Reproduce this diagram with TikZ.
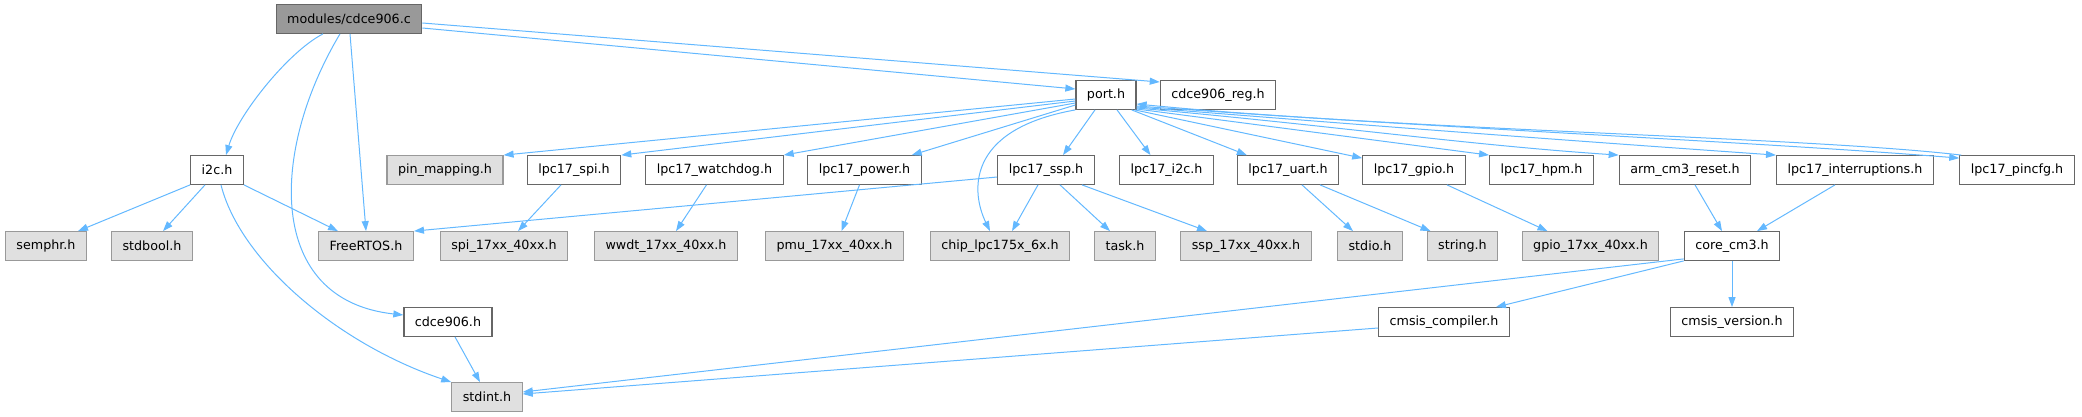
\documentclass[tikz,border=0pt]{standalone}
\usepackage{fontspec}
\setmainfont{DejaVu Sans}
\usetikzlibrary{arrows.meta}
\definecolor{edgeblue}{RGB}{99, 184, 255}
\definecolor{rootgray}{RGB}{153, 153, 153}
\definecolor{boxborder}{RGB}{102, 102, 102}
\definecolor{extfill}{RGB}{224, 224, 224}
\tikzset{
  hdr/.style={draw=boxborder, fill=white, line width=1.2pt, minimum height=28.6pt, inner xsep=11pt, inner ysep=0pt, font=\fontsize{12.7}{15}\selectfont},
  exthdr/.style={hdr, draw=rootgray, fill=extfill},
  roothdr/.style={hdr, fill=rootgray},
  incl/.style={draw=edgeblue, line width=1pt, -{Triangle[length=10pt, width=7pt]}}
}

\begin{document}
\begin{tikzpicture}[x=1pt, y=-1pt]
  \useasboundingbox (0,0) rectangle (2082,417);

  \node[roothdr] (cdcec) at (349,19) {modules/cdce906.c};
  \node[hdr] (port) at (1106,95) {port.h};
  \node[hdr] (cdcereg) at (1218,95) {cdce906\_reg.h};

  \node[hdr] (i2c) at (217,170) {i2c.h};
  \node[exthdr] (pinmap) at (445,170) {pin\_mapping.h};
  \node[hdr] (lspi) at (574,170) {lpc17\_spi.h};
  \node[hdr] (lwdog) at (714.5,170) {lpc17\_watchdog.h};
  \node[hdr] (lpower) at (864.5,170) {lpc17\_power.h};
  \node[hdr] (lssp) at (1046,170) {lpc17\_ssp.h};
  \node[hdr] (li2c) at (1166.5,170) {lpc17\_i2c.h};
  \node[hdr] (luart) at (1288,170) {lpc17\_uart.h};
  \node[hdr] (lgpio) at (1414,170) {lpc17\_gpio.h};
  \node[hdr] (lhpm) at (1541.5,170) {lpc17\_hpm.h};
  \node[hdr] (armreset) at (1685,170) {arm\_cm3\_reset.h};
  \node[hdr] (lintr) at (1855,170) {lpc17\_interruptions.h};
  \node[hdr] (lpincfg) at (2017,170) {lpc17\_pincfg.h};

  \node[exthdr] (semphr) at (46,246) {semphr.h};
  \node[exthdr] (stdbool) at (152,246) {stdbool.h};
  \node[exthdr] (freertos) at (366,246) {FreeRTOS.h};
  \node[exthdr] (spidrv) at (504,246) {spi\_17xx\_40xx.h};
  \node[exthdr] (wwdt) at (666,246) {wwdt\_17xx\_40xx.h};
  \node[exthdr] (pmu) at (834.5,246) {pmu\_17xx\_40xx.h};
  \node[exthdr] (chip) at (1000,246) {chip\_lpc175x\_6x.h};
  \node[exthdr] (task) at (1125,246) {task.h};
  \node[exthdr] (sspdrv) at (1246,246) {ssp\_17xx\_40xx.h};
  \node[exthdr] (stdio) at (1370,246) {stdio.h};
  \node[exthdr] (string) at (1462.5,246) {string.h};
  \node[exthdr] (gpiodrv) at (1590.5,246) {gpio\_17xx\_40xx.h};
  \node[hdr] (corecm3) at (1732,246) {core\_cm3.h};

  \node[hdr] (cdceh) at (448,322) {cdce906.h};
  \node[hdr] (cmsiscomp) at (1444,322) {cmsis\_compiler.h};
  \node[hdr] (cmsisver) at (1732,322) {cmsis\_version.h};

  \node[exthdr] (stdint) at (487,397) {stdint.h};

  \draw[incl] ([xshift=-26pt]cdcec.south) .. controls +(-35,18) and +(12,-40) .. ([xshift=9pt]i2c.north);
  \draw[incl] ([xshift=-9pt]cdcec.south) .. controls +(-70,117) and +(-138,-15) .. ([yshift=7pt]cdceh.west);
  \draw[incl] ([xshift=1pt]cdcec.south) -- (freertos.north);
  \draw[incl] ([yshift=-9pt]cdcec.east) -- ([yshift=6pt]port.west);
  \draw[incl] ([yshift=-4pt]cdcec.east) -- ([yshift=13pt]cdcereg.west);

  \draw[incl] (i2c.south west) -- ([xshift=32pt]semphr.north);
  \draw[incl] ([xshift=-12pt]i2c.south) -- ([xshift=11pt]stdbool.north);
  \draw[incl] (i2c.south east) -- ([xshift=-28pt]freertos.north);
  \draw[incl] ([xshift=4pt]i2c.south) .. controls +(19,76) and +(-113,-38) .. (stdint.north west);
  \draw[incl] ([xshift=7pt]cdceh.south) -- ([xshift=-7pt]stdint.north);

  \draw[incl] ([yshift=-4pt]port.west) -- (pinmap.north east);
  \draw[incl] ([yshift=-6pt]port.west) -- (lspi.north east);
  \draw[incl] ([yshift=-8pt]port.west) -- (lwdog.north east);
  \draw[incl] ([yshift=-10pt]port.west) -- ([xshift=-10pt]lpower.north east);
  \draw[incl] (port.south west) .. controls +(-112,20) and +(-18,-37) .. ([xshift=-10pt]chip.north);
  \draw[incl] ([xshift=-11pt]port.south) -- ([xshift=17pt]lssp.north);
  \draw[incl] ([xshift=11pt]port.south) -- ([xshift=-16pt]li2c.north);
  \draw[incl] ([xshift=-5pt]port.south east) -- ([xshift=10pt]luart.north west);
  \draw[incl] ([xshift=-2pt]port.south east) -- ([yshift=-3pt]lgpio.north west);
  \draw[incl] ([yshift=-14pt]port.east) -- (lhpm.north west);
  \draw[incl] ([yshift=-13pt]port.east) .. controls +(200,18) and +(-150,-10) .. (armreset.north west);
  \draw[incl] ([yshift=-12pt]port.east) .. controls +(250,20) and +(-200,-14) .. (lintr.north west);
  \draw[incl] ([yshift=-11pt]port.east) .. controls +(300,22) and +(-200,-16) .. ([yshift=-3pt]lpincfg.north west);
  \draw[incl] ([xshift=2pt]lpincfg.north west) .. controls +(-150,-18) and +(264,26) .. ([yshift=-9pt]port.east);

  \draw[incl] ([yshift=-7pt]lssp.west) -- (freertos.north east);
  \draw[incl] ([xshift=-8pt]lssp.south) -- ([xshift=12pt]chip.north);
  \draw[incl] ([xshift=14pt]lssp.south) -- ([xshift=-15pt]task.north);
  \draw[incl] ([xshift=36pt]lssp.south) -- ([xshift=-39pt]sspdrv.north);

  \draw[incl] ([xshift=-13pt]lspi.south) -- ([xshift=14pt]spidrv.north);
  \draw[incl] ([xshift=-8pt]lwdog.south) -- ([xshift=10pt]wwdt.north);
  \draw[incl] ([xshift=-5pt]lpower.south) -- ([xshift=7pt]pmu.north);
  \draw[incl] ([xshift=14pt]luart.south) -- ([xshift=-17pt]stdio.north);
  \draw[incl] ([xshift=32pt]luart.south) -- ([xshift=-32pt]string.north);
  \draw[incl] ([xshift=33pt]lgpio.south) -- ([xshift=-43pt]gpiodrv.north);
  \draw[incl] ([xshift=10pt]armreset.south) -- ([xshift=-10pt]corecm3.north);
  \draw[incl] ([xshift=-20pt]lintr.south) -- ([xshift=25pt]corecm3.north);

  \draw[incl] (corecm3.south) -- (cmsisver.north);
  \draw[incl] (corecm3.south west) -- ([xshift=-14pt]cmsiscomp.north east);
  \draw[incl] ([yshift=2pt]corecm3.south west) -- ([yshift=5pt]stdint.east);
  \draw[incl] ([yshift=-6pt]cmsiscomp.west) -- ([yshift=3pt]stdint.east);
\end{tikzpicture}
\end{document}
